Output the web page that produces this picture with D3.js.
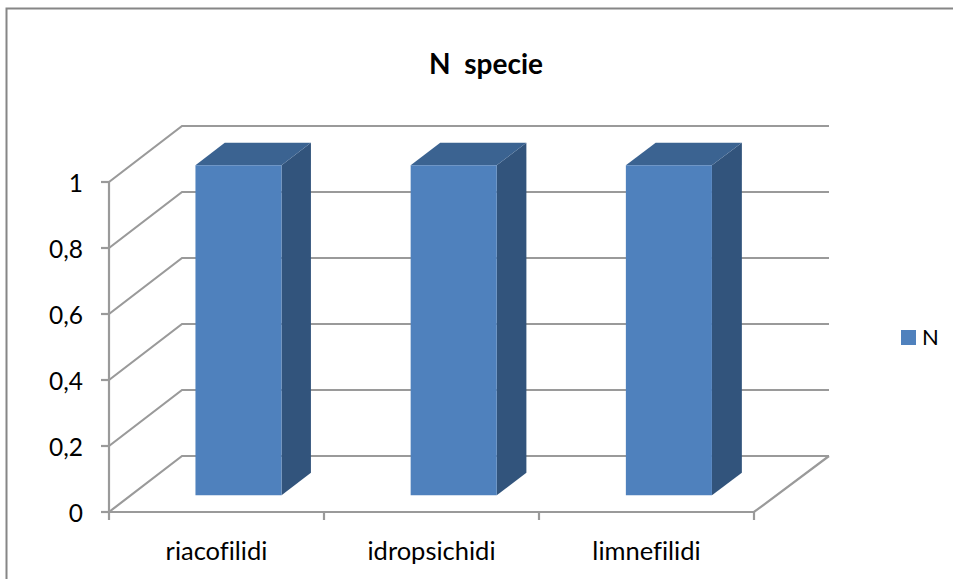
<!DOCTYPE html>
<html><head><meta charset="utf-8">
<script src="https://cdn.jsdelivr.net/npm/d3@7/dist/d3.min.js"></script>
<style>html,body{margin:0;padding:0;background:#fff}svg{display:block}text{font-family:Lato,"Open Sans",sans-serif;fill:#000;font-variant-ligatures:none}</style>
</head><body><svg id="c" width="953" height="579"></svg>
<script>
const categories=["riacofilidi","idropsichidi","limnefilidi"];
const seriesName="N";
const values=[1,1,1];
const yTicks=[0,0.2,0.4,0.6,0.8,1];
const title="N  specie";

const svg=d3.select("#c");
const x=d3.scaleBand().domain(categories).range([109,754]);
const y=d3.scaleLinear().domain([0,1]).range([512,182]);
const x0=x.range()[0],x1=x.range()[1];
const depth=d3.scaleLinear().domain([x0,x1]).range([73,75]);
const rise=d3.scaleLinear().domain([0,1]).range([0,56]);
const P=(px,v,z)=>[px+depth(px)*z,y(v)-rise(z)];
const poly=pts=>"M"+pts.map(p=>p.join(",")).join("L")+"Z";
const grid="#9a9a9a";

// frame
svg.append("path").attr("d","M6.5,579V8.5H953").attr("fill","none").attr("stroke","#868686").attr("stroke-width",2);

// walls
const g=svg.append("g").attr("fill","none").attr("stroke",grid).attr("stroke-width",2.2);
yTicks.forEach(t=>{
  g.append("path").attr("d",d3.line()([P(x0,t,0),P(x0,t,1),P(x1,t,1)]));
  g.append("line").attr("x1",x0-8).attr("x2",x0).attr("y1",y(t)).attr("y2",y(t));
});
g.append("line").attr("x1",x0).attr("x2",x0).attr("y1",y(1)).attr("y2",y(0));
g.append("path").attr("d",d3.line()([P(x0,0,0),P(x1,0,0),P(x1,0,1)]));
[x0,...categories.map(c=>x(c)+x.bandwidth())].forEach(px=>{
  g.append("line").attr("x1",px).attr("x2",px).attr("y1",512).attr("y2",520);
});

// bars
const z0=0.3,z1=0.7,frac=0.4;
categories.forEach((c,i)=>{
  const w=x.bandwidth()*frac;
  const a=x(c)+(x.bandwidth()-w)/2, b=a+w, v=values[i];
  const b_=svg.append("g");
  b_.append("path").attr("d",poly([P(b,0,z0),P(b,0,z1),P(b,v,z1),P(b,v,z0)])).attr("fill","#32547c");
  b_.append("path").attr("d",poly([P(a,v,z0),P(b,v,z0),P(b,v,z1),P(a,v,z1)])).attr("fill","#3b6391");
  b_.append("path").attr("d",poly([P(a,0,z0),P(b,0,z0),P(b,v,z0),P(a,v,z0)])).attr("fill","#4f81bd");
});

// labels
const fmt=t=>String(t).replace(".",",");
svg.append("g").selectAll("text").data(yTicks).join("text")
  .attr("x",83).attr("y",t=>y(t)+9.5).attr("text-anchor","end").attr("font-size",24.5).text(fmt);
svg.append("g").selectAll("text").data(categories).join("text")
  .attr("x",c=>x(c)+x.bandwidth()/2).attr("y",560).attr("text-anchor","middle").attr("font-size",25.5).text(d=>d);
svg.append("text").attr("x",486).attr("y",74).attr("text-anchor","middle").attr("font-size",28).attr("font-weight",700).style("white-space","pre").text(title);
svg.append("rect").attr("x",901).attr("y",330).attr("width",15).attr("height",15).attr("fill","#4f81bd");
svg.append("text").attr("x",922).attr("y",345).attr("font-size",22).text(seriesName);
</script></body></html>
